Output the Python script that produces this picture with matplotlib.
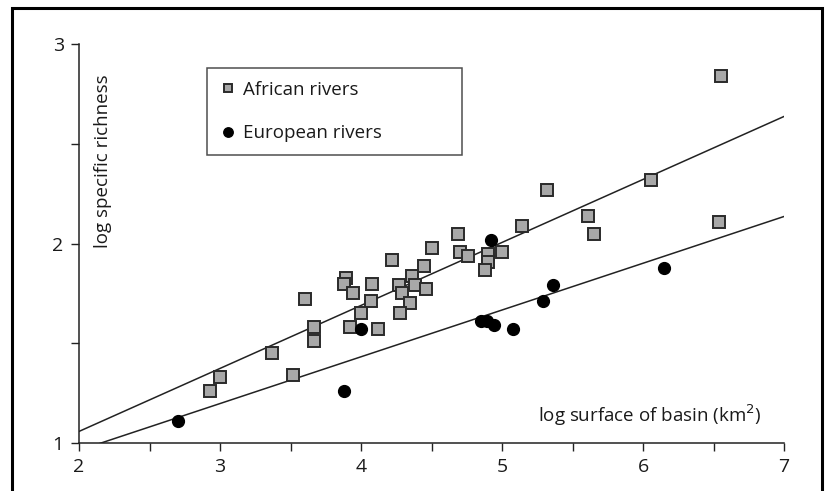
import numpy as np
import matplotlib
matplotlib.use("Agg")
import matplotlib.pyplot as plt
from matplotlib.patches import Rectangle

plt.rcParams['font.family'] = ['Open Sans', 'DejaVu Sans']

# African rivers: log basin surface / log specific richness
africa_x = [6.55, 6.06, 5.32, 5.61, 5.65, 6.54, 5.14, 4.69, 4.50, 4.70,
            4.76, 5.00, 4.90, 4.90, 4.88, 4.22, 4.45, 4.36, 4.08, 3.89,
            3.88, 4.27, 4.38, 4.46, 3.94, 4.29, 3.60, 4.07, 4.35, 4.00,
            4.28, 3.67, 3.92, 4.12, 3.67, 3.37, 3.52, 3.00, 2.93]
africa_y = [2.84, 2.32, 2.27, 2.14, 2.05, 2.11, 2.09, 2.05, 1.98, 1.96,
            1.94, 1.96, 1.95, 1.91, 1.87, 1.92, 1.89, 1.84, 1.80, 1.83,
            1.80, 1.79, 1.79, 1.77, 1.75, 1.75, 1.72, 1.71, 1.70, 1.65,
            1.65, 1.58, 1.58, 1.57, 1.51, 1.45, 1.34, 1.33, 1.26]

# European rivers
europe_x = [2.70, 3.88, 4.00, 4.92, 4.85, 4.89, 4.94, 5.08, 5.29, 5.36, 6.15]
europe_y = [1.11, 1.26, 1.57, 2.02, 1.61, 1.61, 1.59, 1.57, 1.71, 1.79, 1.88]

# regression lines (intercept, slope) as drawn
africa_fit = (0.426, 0.316)
europe_fit = (0.494, 0.2346)

fig = plt.figure(figsize=(8.3, 4.91), dpi=100)
ax = fig.add_axes([0.0952, 0.0978, 0.8494, 0.812])

xs = np.array([2.0, 7.0])
ax.plot(xs, africa_fit[0] + africa_fit[1] * xs, color='#222222', lw=1.1, zorder=2)
ax.plot(xs, europe_fit[0] + europe_fit[1] * xs, color='#222222', lw=1.1, zorder=2)

ax.plot(africa_x, africa_y, ls='none', marker='s', ms=8, mfc='#a8a8a8',
        mec='#2a2a2a', mew=1.4, label='African rivers', zorder=3)
ax.plot(europe_x, europe_y, ls='none', marker='o', ms=8.5, mfc='black',
        mec='black', label='European rivers', zorder=4)

ax.set_xlim(2, 7)
ax.set_ylim(1, 3)
ax.set_xticks([2, 3, 4, 5, 6, 7])
ax.set_xticks(np.arange(2.5, 7, 1.0), minor=True)
ax.set_yticks([1, 2, 3])
ax.set_yticks([1.5, 2.5], minor=True)
ax.tick_params(which='both', direction='out', length=6, width=1, labelsize=14,
               color='#222222', labelcolor='#1a1a1a')
ax.tick_params(axis='x', pad=5)
ax.tick_params(axis='y', pad=5)
for s in ['top', 'right']:
    ax.spines[s].set_visible(False)
for s in ['left', 'bottom']:
    ax.spines[s].set_linewidth(1.1)
    ax.spines[s].set_color('#222222')

ax.text(0.034, 0.706, 'log specific richness', transform=ax.transAxes,
        rotation=90, ha='center', va='center', fontsize=13.5, color='#1a1a1a')
ax.text(0.81, 0.070, 'log surface of basin (km$^2$)', transform=ax.transAxes,
        ha='center', va='center', fontsize=13.5, color='#1a1a1a')

leg = ax.legend(loc='upper left', bbox_to_anchor=(0.182, 0.73, 0.361, 0.211),
                mode='expand', frameon=True, fancybox=False, fontsize=13.5,
                labelspacing=1.35, borderpad=0.7, handletextpad=0.4,
                handlelength=0.8, borderaxespad=0, markerscale=0.8)
leg.get_frame().set_edgecolor('#222222')
leg.get_frame().set_linewidth(1.1)
for t in leg.get_texts():
    t.set_color('#1a1a1a')

# outer frame of the figure panel
fig.patches.append(Rectangle((12 / 830, -0.05), 810 / 830, 1 - 8 / 491 + 0.05,
                             transform=fig.transFigure, fill=False,
                             edgecolor='black', lw=2.2))

fig.savefig('out.png', dpi=100)
